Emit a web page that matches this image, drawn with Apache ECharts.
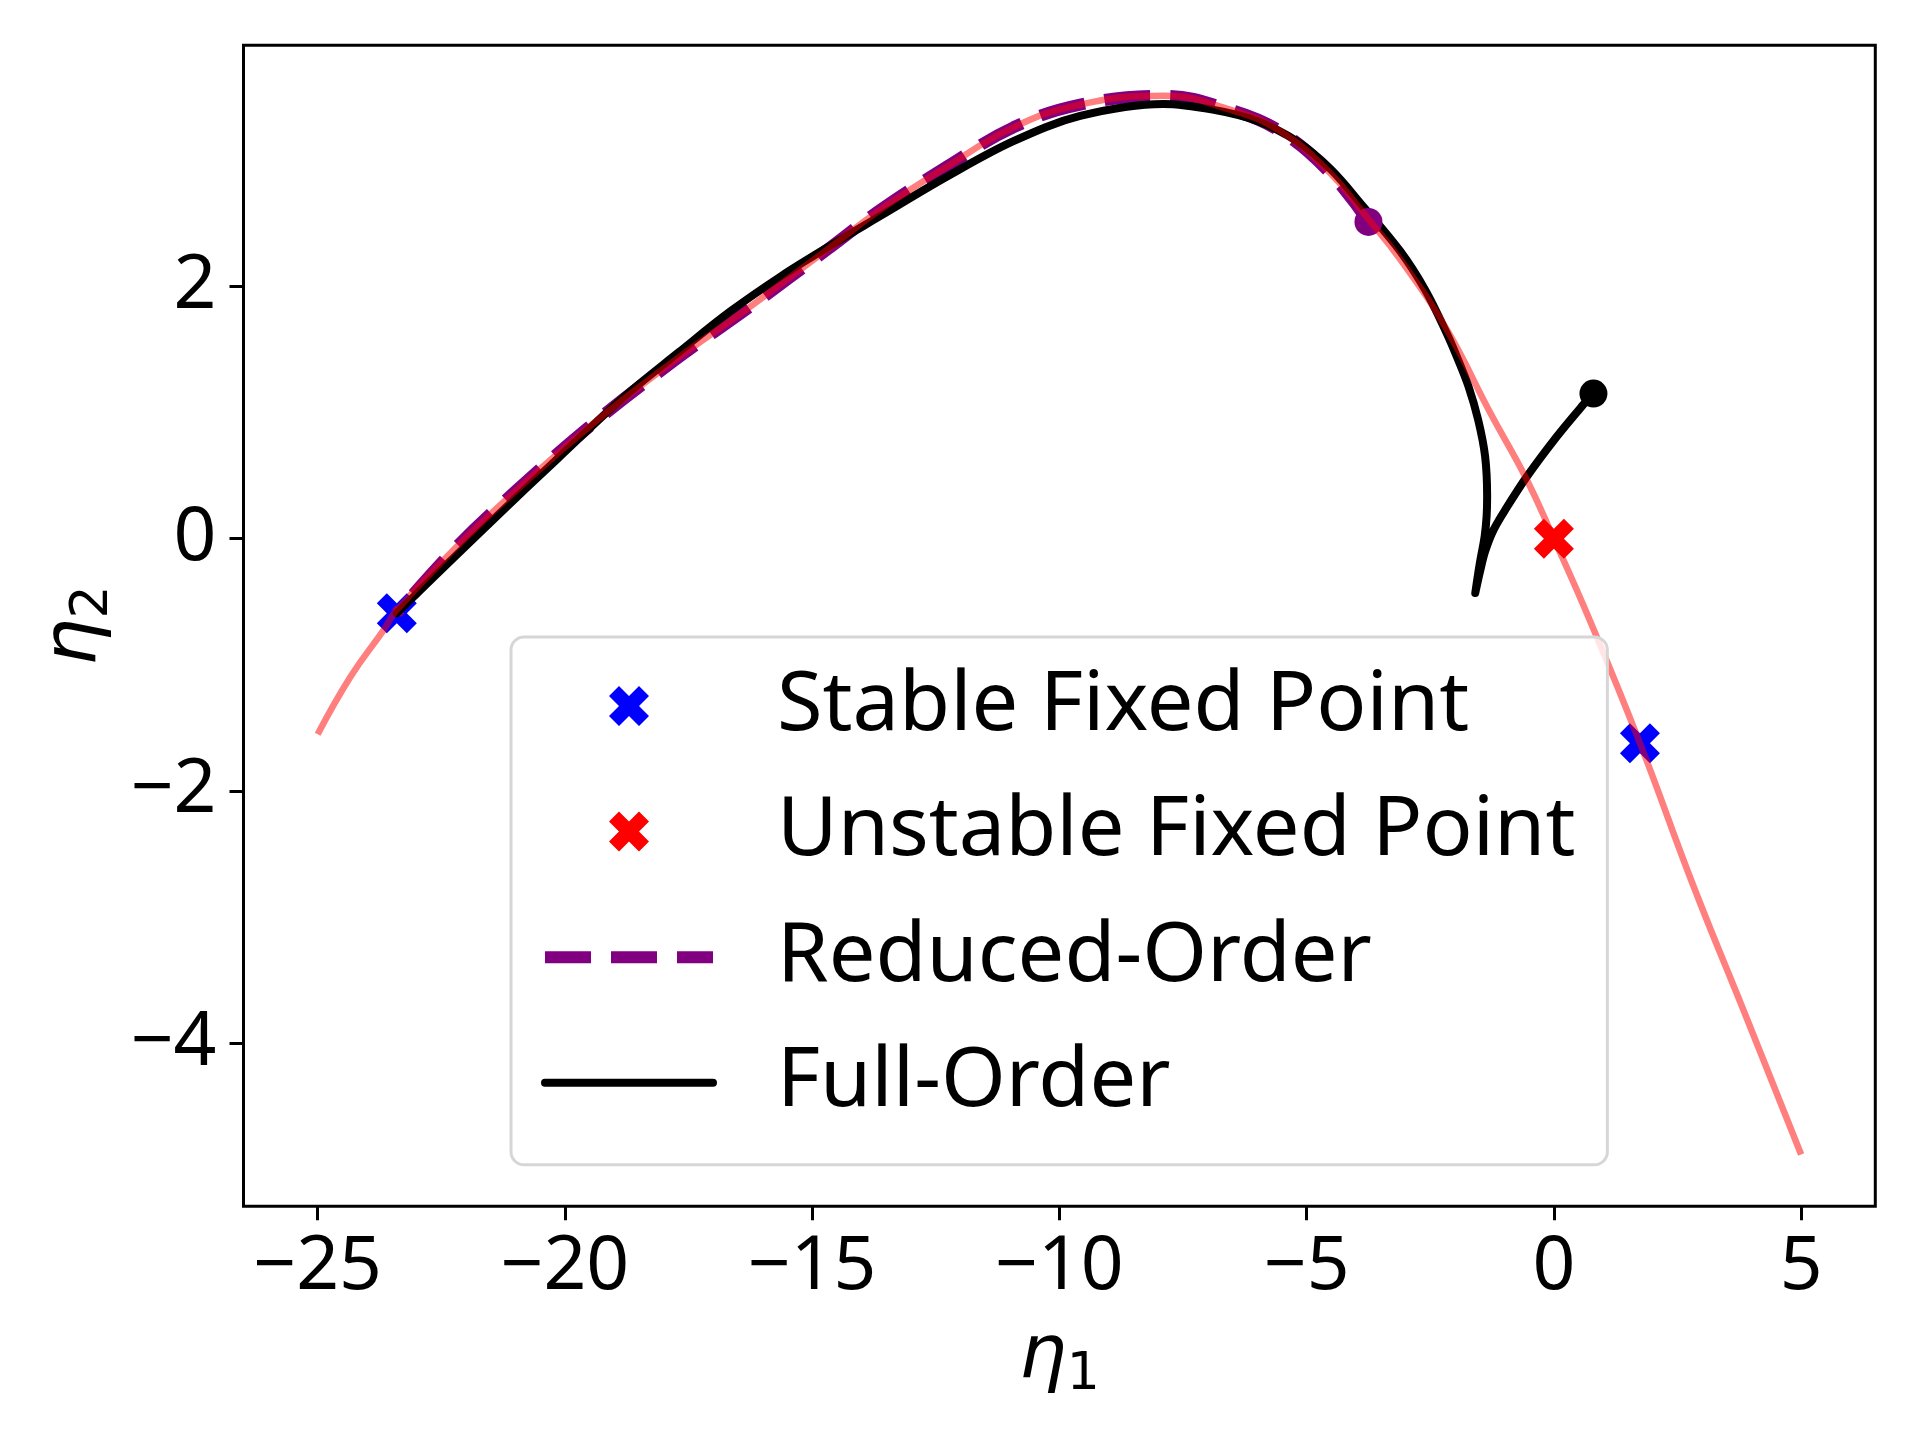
<!DOCTYPE html>
<html>
<head>
<meta charset="utf-8">
<script src="https://cdn.jsdelivr.net/npm/echarts@6/dist/echarts.min.js"></script>
<style>
  html, body { margin: 0; padding: 0; background: #fff; }
  #main { width: 1920px; height: 1440px; }
</style>
</head>
<body>
<div id="main"></div>
<script>
// slow manifold (translucent red curve)
const manifoldX = [-25.0, -24.33, -23.66, -23.41, -22.23, -20.99, -19.44, -17.79, -16.25, -14.70, -13.61, -12.27, -10.93, -9.58, -7.9, -6.55, -5.54, -4.53, -3.85, -3.10, -2.17, -1.29, -0.55, 0.0, 0.73, 1.74, 2.82, 3.90, 5.0]
const manifoldY = [-1.55, -1.09, -0.72, -0.57, -0.08, 0.38, 0.91, 1.41, 1.84, 2.29, 2.61, 2.95, 3.26, 3.44, 3.51, 3.40, 3.23, 2.90, 2.58, 2.21, 1.66, 1.00, 0.47, 0.0, -0.65, -1.62, -2.75, -3.80, -4.88]

// reduced-order trajectory (purple dashed)
const reducedX = [-3.75, -4.53, -5.54, -6.55, -7.9, -9.58, -10.93, -12.27, -13.61, -14.70, -16.25, -17.79, -19.44, -20.99, -22.23, -23.40]
const reducedY = [2.51, 2.90, 3.23, 3.40, 3.51, 3.44, 3.26, 2.95, 2.61, 2.29, 1.84, 1.41, 0.91, 0.38, -0.08, -0.59]

// full-order trajectory (black)
const fullX = [0.80, 0.59, 0.06, -0.55, -0.95, -1.22, -1.39, -1.50, -1.59, -1.50, -1.40, -1.36, -1.35, -1.39, -1.53, -1.73, -1.96, -2.17, -2.60, -3.11, -3.85, -4.52, -5.20, -6.00, -6.90, -7.90, -9.58, -10.93, -12.27, -13.61, -14.60, -15.63, -16.66, -17.69, -18.82, -20.16, -21.40, -22.43, -23.40]
const fullY = [1.15, 1.06, 0.81, 0.49, 0.25, 0.07, -0.10, -0.27, -0.43, -0.20, 0.02, 0.18, 0.33, 0.65, 0.94, 1.21, 1.44, 1.63, 1.97, 2.28, 2.63, 2.93, 3.15, 3.31, 3.40, 3.445, 3.35, 3.15, 2.87, 2.56, 2.33, 2.08, 1.80, 1.48, 1.12, 0.63, 0.17, -0.22, -0.59]

const stableX = [-23.40, 1.74]
const stableY = [-0.59, -1.62]
const unstableX = [0.0]
const unstableY = [0.0]
const reducedStart = [-3.75, 2.51]
const fullStart = [0.80, 1.15]

const xTicks = [-25, -20, -15, -10, -5, 0, 5]
const yTicks = [-4, -2, 0, 2]

const pairs = (xs, ys) => xs.map((x, i) => [x, ys[i]])
const minus = v => String(v).replace('-', '\u2212')

// filled "X" marker like matplotlib's
const xMark = 'path://M3,0L4,1L3,2L4,3L3,4L2,3L1,4L0,3L1,2L0,1L1,0L2,1Z'

const font = 'Noto Sans'
const axisName = {
    rich: {
        e: { fontFamily: 'DejaVu Sans', fontStyle: 'italic', fontSize: 75, lineHeight: 80, color: '#000' },
        s: { fontFamily: 'DejaVu Sans', fontSize: 52, lineHeight: 80, padding: [36, 0, 0, 0], color: '#000' }
    }
}

const chart = echarts.init(document.getElementById('main'), null, { renderer: 'canvas' })
chart.setOption({
    backgroundColor: '#fff',
    animation: false,
    grid: {
        left: 243.5, right: 44.7, top: 45.3, bottom: 233.7,
        show: true, borderColor: '#000', borderWidth: 3, backgroundColor: 'transparent'
    },
    xAxis: {
        type: 'value', min: -26.5, max: 6.5,
        name: '{e|η}{s|1}', nameLocation: 'middle', nameGap: 111, nameTextStyle: axisName,
        axisLine: { show: false, onZero: false },
        splitLine: { show: false },
        axisTick: { show: true, customValues: xTicks, length: 14, lineStyle: { color: '#000', width: 3 } },
        axisLabel: { customValues: xTicks, formatter: minus, margin: 24, fontSize: 75, fontFamily: font, color: '#000' }
    },
    yAxis: {
        type: 'value', min: -5.29, max: 3.91,
        name: '{e|η}{s|2}', nameLocation: 'middle', nameGap: 104, nameTextStyle: axisName,
        axisLine: { show: false, onZero: false },
        splitLine: { show: false },
        axisTick: { show: true, customValues: yTicks, length: 14, lineStyle: { color: '#000', width: 3 } },
        axisLabel: { customValues: yTicks, formatter: minus, margin: 27, fontSize: 75, fontFamily: font, color: '#000' }
    },
    legend: {
        orient: 'vertical', left: 511, top: 637, z: 10,
        selectedMode: false,
        itemWidth: 168, itemHeight: 40, itemGap: 25.6,
        padding: [19, 32, 32, 28],
        backgroundColor: 'rgba(255,255,255,0.8)',
        borderColor: '#d6d6d6', borderWidth: 3, borderRadius: 13,
        textStyle: { fontSize: 83, fontFamily: font, color: '#000', lineHeight: 100, padding: [0, 0, 0, 59] },
        data: [
            { name: 'Stable Fixed Point', icon: xMark },
            { name: 'Unstable Fixed Point', icon: xMark },
            { name: 'Reduced-Order', lineStyle: { width: 12, type: [46, 20] }, itemStyle: { opacity: 0 } },
            { name: 'Full-Order', lineStyle: { width: 8 }, itemStyle: { opacity: 0 } }
        ]
    },
    series: [
        {
            name: 'Stable Fixed Point', type: 'scatter', z: 2,
            symbol: xMark, symbolSize: 40,
            itemStyle: { color: '#0000ff', opacity: 1 },
            data: pairs(stableX, stableY)
        },
        {
            name: 'Unstable Fixed Point', type: 'scatter', z: 2,
            symbol: xMark, symbolSize: 40,
            itemStyle: { color: '#ff0000', opacity: 1 },
            data: pairs(unstableX, unstableY)
        },
        {
            name: 'Reduced-Order', type: 'line', z: 3,
            smooth: 0.4, symbol: 'none',
            itemStyle: { color: '#800080' },
            lineStyle: { color: '#800080', width: 12, type: [46, 20], cap: 'butt' },
            data: pairs(reducedX, reducedY)
        },
        {
            name: 'Reduced start', type: 'scatter', z: 3,
            symbol: 'circle', symbolSize: 28,
            itemStyle: { color: '#800080', opacity: 1 },
            data: [reducedStart]
        },
        {
            name: 'Full-Order', type: 'line', z: 3,
            smooth: 0.35, symbol: 'none',
            itemStyle: { color: '#000' },
            lineStyle: { color: '#000', width: 8, cap: 'round', join: 'round' },
            data: pairs(fullX, fullY)
        },
        {
            name: 'Full start', type: 'scatter', z: 3,
            symbol: 'circle', symbolSize: 28,
            itemStyle: { color: '#000', opacity: 1 },
            data: [fullStart]
        },
        {
            name: 'Manifold', type: 'line', z: 4,
            smooth: 0.45, symbol: 'none',
            lineStyle: { color: 'rgba(255,0,0,0.5)', width: 6.5 },
            data: pairs(manifoldX, manifoldY)
        }
    ]
})
</script>
</body>
</html>
